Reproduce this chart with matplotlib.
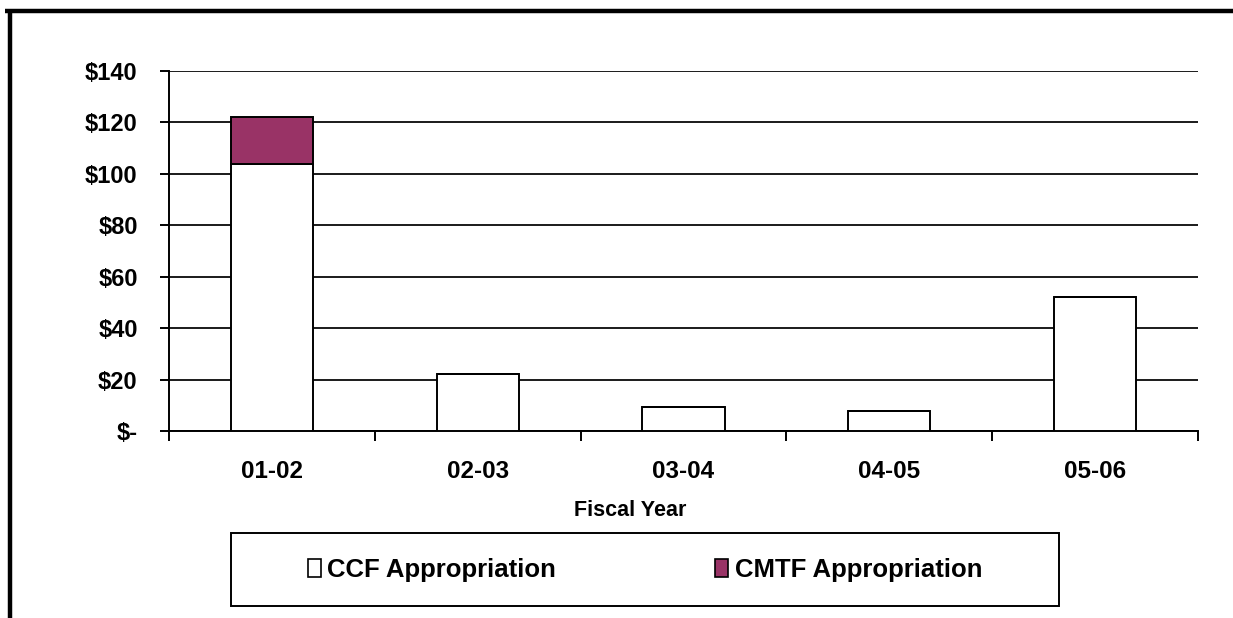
"""Stacked bar chart of CCF / CMTF appropriations by fiscal year."""

import matplotlib
matplotlib.use("Agg")
import matplotlib.pyplot as plt
from matplotlib.lines import Line2D
from matplotlib.patches import Patch, Rectangle
import numpy as np


years = ["01-02", "02-03", "03-04", "04-05", "05-06"]
ccf = [104, 22.3, 9.3, 7.8, 52.2]
cmtf = [18, 0, 0, 0, 0]
y_ticks = [0, 20, 40, 60, 80, 100, 120, 140]
y_labels = ["$-", "$20", "$40", "$60", "$80", "$100", "$120", "$140"]

PLUM = "#993366"
plt.rcParams["font.family"] = ["Liberation Sans", "DejaVu Sans"]
plt.rcParams["font.weight"] = "bold"
plt.rcParams["axes.labelweight"] = "bold"

fig = plt.figure(figsize=(12.33, 6.18), dpi=100)
ax = fig.add_axes([169 / 1233, 1 - 431 / 618, (1198 - 169) / 1233, 360 / 618])

x = np.arange(len(years))
ax.bar(x, ccf, width=0.4, color="white", edgecolor="black", linewidth=1.4, zorder=3)
ax.bar(x, cmtf, width=0.4, bottom=ccf, color=PLUM, edgecolor="black", linewidth=1.4, zorder=3)

ax.set_xlim(-0.5, len(years) - 0.5)
ax.set_ylim(0, 140)
ax.set_yticks(y_ticks)
ax.set_yticklabels(y_labels, fontsize=17)
ax.set_xticks(x)
ax.set_xticklabels(years, fontsize=17.5)
ax.set_xticks(np.arange(len(years) + 1) - 0.5, minor=True)
ax.tick_params(axis="x", which="major", length=0, pad=21)
ax.tick_params(axis="x", which="minor", length=7, width=1.4, direction="out")
ax.tick_params(axis="y", length=6.5, width=1.4, pad=16)

ax.yaxis.grid(True, color="#1a1a1a", linewidth=1.4)
ax.set_axisbelow(True)
for side in ("top", "right"):
    ax.spines[side].set_visible(False)
for side in ("left", "bottom"):
    ax.spines[side].set_linewidth(1.4)

ax.set_xlabel("Fiscal Year", fontsize=15.5)
ax.xaxis.set_label_coords((630 - 169) / 1029, -(511 - 431) / 360)
ax.xaxis.label.set_va("center")

handles = [
    Patch(facecolor="white", edgecolor="black", linewidth=1.2, label="CCF Appropriation"),
    Patch(facecolor=PLUM, edgecolor="black", linewidth=1.2, label="CMTF Appropriation"),
]
fig.legend(handles=handles, loc="center", bbox_to_anchor=(645 / 1233, 1 - 569.5 / 618),
           ncol=2, frameon=False, fontsize=18.5, handlelength=0.5, handleheight=0.7,
           handletextpad=0.25, columnspacing=6.2)
fig.patches.append(Rectangle((231 / 1233, 1 - 606 / 618), (1059 - 231) / 1233, 73 / 618,
                             transform=fig.transFigure, facecolor="none",
                             edgecolor="black", linewidth=1.4))

# thick frame on top and left of the picture
fig.lines.append(Line2D([5 / 1233, 1], [1 - 10.5 / 618] * 2, transform=fig.transFigure,
                        color="black", linewidth=3.2, solid_capstyle="butt"))
fig.lines.append(Line2D([9.5 / 1233] * 2, [0, 1 - 10.5 / 618], transform=fig.transFigure,
                        color="black", linewidth=3.2, solid_capstyle="butt"))

fig.savefig("out.png", dpi=100)
